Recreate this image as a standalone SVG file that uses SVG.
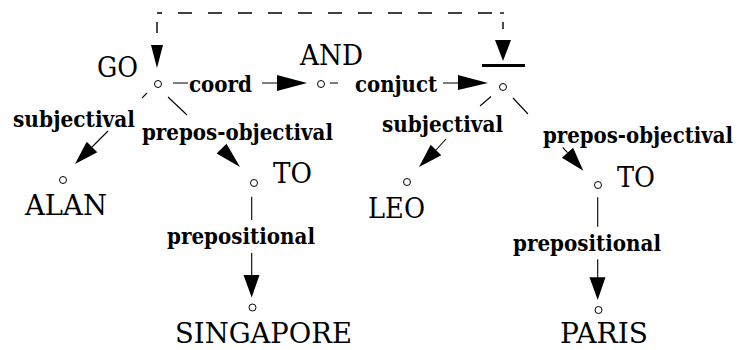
<svg xmlns="http://www.w3.org/2000/svg" width="741" height="350" viewBox="0 0 741 350">
<style>
.n{font-family:"DejaVu Serif",serif;font-size:28px;fill:#000}
.l{font-family:"DejaVu Serif",serif;font-size:23px;font-weight:bold;fill:#000}
.c{fill:#fff;stroke:#000;stroke-width:1}
.e{stroke:#000;stroke-width:1.1;fill:none}
.d{stroke:#000;stroke-width:1.4;fill:none}
.a{fill:#000;stroke:none}
</style>
<rect width="741" height="350" fill="#fff"/>
<g id="connectors">
  <path class="d" d="M157,13H504" stroke-dasharray="14 16" stroke-dashoffset="9"/>
  <path class="d" d="M500,13H504"/>
  <path class="d" d="M157,22V33"/>
  <path class="d" d="M503,22V29"/>
  <polygon class="a" points="151,45 163,45 157,68"/>
  <polygon class="a" points="495,40 511,40 503,61"/>
  <rect x="482" y="64" width="43" height="3" fill="#000"/>
  <path class="e" d="M173,83H188 M262,83H277"/>
  <polygon class="a" points="277,75 277,91 307,83"/>
  <path class="e" d="M330,83H338 M443,83H458"/>
  <polygon class="a" points="458,75 458,90 488,83"/>
  <path class="e" d="M147,93L142,98 M108,131L92,147"/>
  <polygon class="a" points="75,164 97.3,152.3 86.7,141.7"/>
  <path class="e" d="M168,97L187,115"/>
  <polygon class="a" points="240,167 226.5,143.7 216.6,153.5"/>
  <path class="e" d="M491,96.5L480,106 M446,139L436,150"/>
  <polygon class="a" points="419,167 441.3,155.3 430.7,144.7"/>
  <path class="e" d="M513,98L528,114 M562.7,147.3L567.5,152.7"/>
  <polygon class="a" points="583.3,170.7 573.1,147.7 561.9,157.7"/>
  <path class="e" d="M251.7,196.7V220 M251.7,253V276"/>
  <polygon class="a" points="243.5,275 259.5,275 251.7,297.5"/>
  <path class="e" d="M597.7,197.3V226.7 M597.7,259.3V278"/>
  <polygon class="a" points="589.5,277.3 605.5,277.3 597.7,300"/>
</g>
<g id="labels">
  <text class="l" x="189" y="92" textLength="63" lengthAdjust="spacingAndGlyphs">coord</text>
  <text class="l" x="355" y="92" textLength="82" lengthAdjust="spacingAndGlyphs">conjuct</text>
  <text class="l" x="13" y="127" textLength="122" lengthAdjust="spacingAndGlyphs">subjectival</text>
  <text class="l" x="142" y="140" textLength="191" lengthAdjust="spacingAndGlyphs">prepos-objectival</text>
  <text class="l" x="382" y="132" textLength="121" lengthAdjust="spacingAndGlyphs">subjectival</text>
  <text class="l" x="733" y="143" text-anchor="end" textLength="190" lengthAdjust="spacingAndGlyphs">prepos-objectival</text>
  <text class="l" x="167" y="244" textLength="148" lengthAdjust="spacingAndGlyphs">prepositional</text>
  <text class="l" x="513" y="251" textLength="148" lengthAdjust="spacingAndGlyphs">prepositional</text>
</g>
<g id="node-go"><circle class="c" cx="158" cy="84" r="3.5"/><text class="n" x="97" y="77" textLength="41" lengthAdjust="spacingAndGlyphs">GO</text></g>
<g id="node-and"><circle class="c" cx="321" cy="84" r="3.5"/><text class="n" x="300" y="65" textLength="63" lengthAdjust="spacingAndGlyphs">AND</text></g>
<g id="node-conj"><circle class="c" cx="503" cy="87" r="3.5"/></g>
<g id="node-alan"><circle class="c" cx="63" cy="180" r="3.5"/><text class="n" x="25" y="215" textLength="82" lengthAdjust="spacingAndGlyphs">ALAN</text></g>
<g id="node-to1"><circle class="c" cx="254" cy="183" r="3.5"/><text class="n" x="273" y="183" textLength="39" lengthAdjust="spacingAndGlyphs">TO</text></g>
<g id="node-singapore"><circle class="c" cx="252.5" cy="307.5" r="3.5"/><text class="n" x="175" y="343" textLength="177" lengthAdjust="spacingAndGlyphs">SINGAPORE</text></g>
<g id="node-leo"><circle class="c" cx="407" cy="182" r="3.5"/><text class="n" x="368" y="218" textLength="57" lengthAdjust="spacingAndGlyphs">LEO</text></g>
<g id="node-to2"><circle class="c" cx="598" cy="185" r="3.5"/><text class="n" x="617" y="187" textLength="38" lengthAdjust="spacingAndGlyphs">TO</text></g>
<g id="node-paris"><circle class="c" cx="598.5" cy="310" r="3.5"/><text class="n" x="560" y="343" textLength="88" lengthAdjust="spacingAndGlyphs">PARIS</text></g>
</svg>
